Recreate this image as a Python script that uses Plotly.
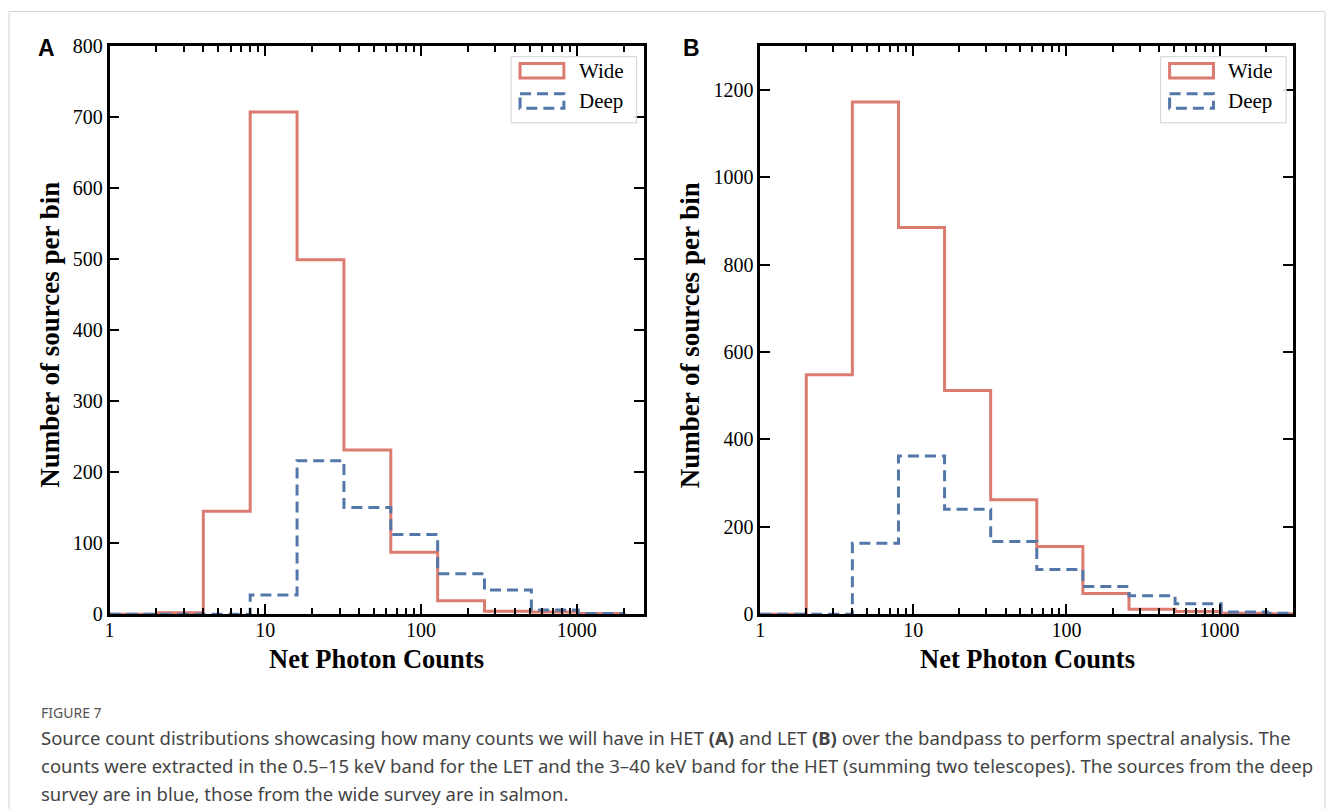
import plotly.graph_objects as go

# ---------------- data ----------------
edges_A = [1, 2, 4, 8, 16, 32, 64, 128, 256, 512, 1024, 2048]
wide_A = [0, 2, 145, 707, 499, 231, 87, 19, 4, 3, 1]
deep_A = [0, 0, 0, 27, 216, 150, 112, 57, 34, 6, 1]

edges_B = [1, 2, 4, 8, 16, 32, 64, 128, 256, 512, 1024, 2048, 4096]
wide_B = [0, 548, 1172, 885, 512, 262, 155, 47, 11, 6, 2, 1]
deep_B = [0, 0, 162, 362, 240, 166, 102, 63, 42, 24, 5, 2]

x_ticks = [1, 10, 100, 1000]
x_ticktext = ["1", "10", "100", "1000"]

W, H = 1330, 809
RED = "#DC7B6F"
BLUE = "#5377A9"
SERIF = "Liberation Serif, Times New Roman, serif"

def px(x):
    return x / W

def py(y):
    return 1 - y / H

fig = go.Figure()

def step(edges, counts, color, dash, xa, ya, name):
    fig.add_trace(go.Scatter(
        x=edges, y=list(counts) + [counts[-1]], mode="lines",
        line=dict(shape="hv", color=color, width=3, dash=dash),
        xaxis=xa, yaxis=ya, name=name, showlegend=False, hoverinfo="skip"))

step(edges_A, wide_A, RED, "solid", "x", "y", "Wide")
step(edges_A, deep_A, BLUE, "11px,6px", "x", "y", "Deep")
step(edges_B, wide_B, RED, "solid", "x2", "y2", "Wide")
step(edges_B, deep_B, BLUE, "11px,6px", "x2", "y2", "Deep")

TOP, BOT = 36, 620
xdomA = [px(105), px(641)]
xdomB = [px(758), px(1293)]
ydom = [py(BOT), py(TOP)]

common_x = dict(
    type="log", tickmode="array", tickvals=x_ticks, ticktext=x_ticktext,
    ticks="inside", ticklen=10, tickwidth=2, tickcolor="black",
    showline=True, linecolor="black", linewidth=2.5, mirror="allticks",
    showgrid=False, zeroline=False, ticklabelstandoff=-4,
    tickfont=dict(family=SERIF, size=20, color="black"),
    minor=dict(ticks="inside", ticklen=6, tickwidth=1.8, tickcolor="black",
               tickmode="array",
               tickvals=[m * d for d in [1, 10, 100, 1000] for m in range(2, 10)],
               showgrid=False),
)
common_y = dict(
    ticks="inside", ticklen=10, tickwidth=2, tickcolor="black",
    showline=True, linecolor="black", linewidth=2.5, mirror="allticks",
    showgrid=False, zeroline=False,
    tickfont=dict(family=SERIF, size=20, color="black"),
)

fig.update_layout(
    width=W, height=H, margin=dict(l=0, r=0, t=0, b=0),
    paper_bgcolor="white", plot_bgcolor="white",
    xaxis=dict(domain=xdomA, range=[0, 3.43], anchor="y", **common_x),
    yaxis=dict(domain=ydom, range=[0, 800], dtick=100, anchor="x", **common_y),
    xaxis2=dict(domain=xdomB, range=[0, 3.48], anchor="y2", **common_x),
    yaxis2=dict(domain=ydom, range=[0, 1300], dtick=200, anchor="x2", **common_y),
)

annotations = []
shapes = []

# axis titles
for xc in [373, 1026]:
    annotations.append(dict(x=px(xc), y=py(666), xref="paper", yref="paper",
                            text="<b>Net Photon Counts</b>", showarrow=False,
                            font=dict(family=SERIF, size=26.5, color="black"),
                            xanchor="center", yanchor="middle"))
for xc in [45, 688]:
    annotations.append(dict(x=px(xc), y=py(333), xref="paper", yref="paper",
                            text="<b>Number of sources per bin</b>", showarrow=False,
                            textangle=-90,
                            font=dict(family=SERIF, size=27, color="black"),
                            xanchor="center", yanchor="middle"))

# panel letters
for lbl, xc in [("A", 42), ("B", 689)]:
    annotations.append(dict(x=px(xc), y=py(38), xref="paper", yref="paper",
                            text="<b>" + lbl + "</b>", showarrow=False,
                            font=dict(family="Liberation Sans, Arial, sans-serif", size=23, color="black"),
                            xanchor="center", yanchor="middle"))

# legends (drawn manually to mimic matplotlib patch handles)
for x0 in [508, 1160]:
    shapes.append(dict(type="rect", xref="paper", yref="paper",
                       x0=px(x0), x1=px(x0 + 126), y0=py(47), y1=py(115),
                       line=dict(color="#d0d0d0", width=1), fillcolor="rgba(255,255,255,0.85)"))
    shapes.append(dict(type="rect", xref="paper", yref="paper",
                       x0=px(x0 + 9), x1=px(x0 + 53), y0=py(54), y1=py(69),
                       line=dict(color=RED, width=3)))
    shapes.append(dict(type="rect", xref="paper", yref="paper",
                       x0=px(x0 + 9), x1=px(x0 + 53), y0=py(85), y1=py(100),
                       line=dict(color=BLUE, width=3, dash="11px,6px")))
    annotations.append(dict(x=px(x0 + 66), y=py(62), xref="paper", yref="paper",
                            text="Wide", showarrow=False, xanchor="left", yanchor="middle",
                            font=dict(family=SERIF, size=21, color="black")))
    annotations.append(dict(x=px(x0 + 66), y=py(93), xref="paper", yref="paper",
                            text="Deep", showarrow=False, xanchor="left", yanchor="middle",
                            font=dict(family=SERIF, size=21, color="black")))

# outer frame (bottom edge lies below the visible page)
shapes.append(dict(type="rect", xref="paper", yref="paper",
                   x0=px(4), x1=px(1325), y0=py(840), y1=py(0.5),
                   line=dict(color="#d4d4d4", width=1), layer="below"))

# caption
CAP = "Noto Sans, Open Sans, sans-serif"
annotations.append(dict(x=px(34), y=py(721), xref="paper", yref="paper",
                        text="FIGURE 7", showarrow=False, xanchor="left", yanchor="middle",
                        font=dict(family=CAP, size=14, color="#555555")))
cap_lines = [
    "Source count distributions showcasing how many counts we will have in HET <b>(A)</b> and LET <b>(B)</b> over the bandpass to perform spectral analysis. The",
    "counts were extracted in the 0.5–15 keV band for the LET and the 3–40 keV band for the HET (summing two telescopes). The sources from the deep",
    "survey are in blue, those from the wide survey are in salmon.",
]
for i, t in enumerate(cap_lines):
    annotations.append(dict(x=px(34), y=py(747 + 28.5 * i), xref="paper", yref="paper",
                            text=t, showarrow=False, xanchor="left", yanchor="middle",
                            font=dict(family=CAP, size=18.5, color="#444444")))

fig.update_layout(annotations=annotations, shapes=shapes)
fig.write_html("out.html")
